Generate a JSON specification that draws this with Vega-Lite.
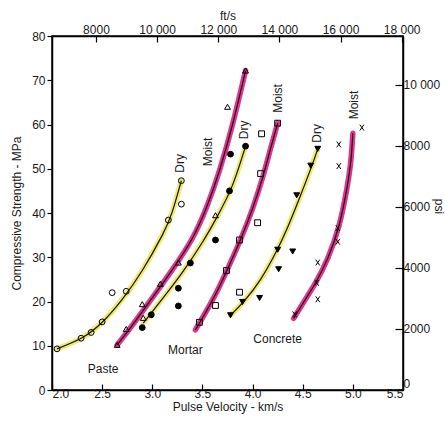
{
  "$schema": "https://vega.github.io/schema/vega-lite/v6.json",
  "width": 351,
  "height": 354,
  "autosize": {"type": "none"},
  "padding": {"left": 52, "top": 36, "right": 42, "bottom": 31},
  "background": "white",
  "config": {
    "font": "Liberation Sans",
    "view": {"stroke": "black", "strokeWidth": 1.5},
    "axis": {
      "domainColor": "black",
      "domainWidth": 1.5,
      "tickColor": "black",
      "tickWidth": 1.2,
      "labelColor": "#1a1a1a",
      "labelFontSize": 12,
      "titleColor": "#1a1a1a",
      "titleFontSize": 12,
      "titleFontWeight": "normal",
      "grid": false
    }
  },
  "datasets": {
    "points": [
      {"series": "Paste Dry", "v": 2.05, "S": 9.3},
      {"series": "Paste Dry", "v": 2.29, "S": 11.7},
      {"series": "Paste Dry", "v": 2.39, "S": 13.0},
      {"series": "Paste Dry", "v": 2.50, "S": 15.4},
      {"series": "Paste Dry", "v": 2.60, "S": 22.0},
      {"series": "Paste Dry", "v": 2.74, "S": 22.3},
      {"series": "Paste Dry", "v": 3.16, "S": 38.4},
      {"series": "Paste Dry", "v": 3.29, "S": 42.0},
      {"series": "Paste Dry", "v": 3.29, "S": 47.3},
      {"series": "Paste Moist", "v": 2.65, "S": 10.2},
      {"series": "Paste Moist", "v": 2.74, "S": 13.8},
      {"series": "Paste Moist", "v": 2.90, "S": 19.4},
      {"series": "Paste Moist", "v": 2.91, "S": 16.3},
      {"series": "Paste Moist", "v": 3.08, "S": 24.0},
      {"series": "Paste Moist", "v": 3.26, "S": 28.8},
      {"series": "Paste Moist", "v": 3.63, "S": 39.5},
      {"series": "Paste Moist", "v": 3.75, "S": 64.0},
      {"series": "Paste Moist", "v": 3.93, "S": 72.2},
      {"series": "Mortar Dry", "v": 2.90, "S": 14.1},
      {"series": "Mortar Dry", "v": 2.99, "S": 17.0},
      {"series": "Mortar Dry", "v": 3.26, "S": 19.0},
      {"series": "Mortar Dry", "v": 3.26, "S": 23.0},
      {"series": "Mortar Dry", "v": 3.38, "S": 28.7},
      {"series": "Mortar Dry", "v": 3.63, "S": 33.9},
      {"series": "Mortar Dry", "v": 3.77, "S": 45.0},
      {"series": "Mortar Dry", "v": 3.78, "S": 53.3},
      {"series": "Mortar Dry", "v": 3.93, "S": 55.1},
      {"series": "Mortar Moist", "v": 3.47, "S": 15.3},
      {"series": "Mortar Moist", "v": 3.63, "S": 19.1},
      {"series": "Mortar Moist", "v": 3.74, "S": 27.0},
      {"series": "Mortar Moist", "v": 3.87, "S": 22.1},
      {"series": "Mortar Moist", "v": 3.87, "S": 33.9},
      {"series": "Mortar Moist", "v": 4.05, "S": 37.8},
      {"series": "Mortar Moist", "v": 4.08, "S": 48.9},
      {"series": "Mortar Moist", "v": 4.09, "S": 57.9},
      {"series": "Mortar Moist", "v": 4.25, "S": 60.3},
      {"series": "Concrete Dry", "v": 3.78, "S": 16.9},
      {"series": "Concrete Dry", "v": 3.90, "S": 19.9},
      {"series": "Concrete Dry", "v": 4.07, "S": 20.8},
      {"series": "Concrete Dry", "v": 4.26, "S": 27.3},
      {"series": "Concrete Dry", "v": 4.25, "S": 31.7},
      {"series": "Concrete Dry", "v": 4.40, "S": 31.3},
      {"series": "Concrete Dry", "v": 4.44, "S": 44.0},
      {"series": "Concrete Dry", "v": 4.58, "S": 50.7},
      {"series": "Concrete Dry", "v": 4.65, "S": 54.5},
      {"series": "Concrete Moist", "v": 4.42, "S": 17.1},
      {"series": "Concrete Moist", "v": 4.65, "S": 20.5},
      {"series": "Concrete Moist", "v": 4.64, "S": 24.2},
      {"series": "Concrete Moist", "v": 4.65, "S": 28.8},
      {"series": "Concrete Moist", "v": 4.85, "S": 33.5},
      {"series": "Concrete Moist", "v": 4.85, "S": 36.6},
      {"series": "Concrete Moist", "v": 4.86, "S": 50.6},
      {"series": "Concrete Moist", "v": 4.86, "S": 55.5},
      {"series": "Concrete Moist", "v": 5.09, "S": 59.3}
    ],
    "curves": [
      {"series": "Paste Dry", "v": 2.05, "S": 9.3},
      {"series": "Paste Dry", "v": 2.3, "S": 11.8},
      {"series": "Paste Dry", "v": 2.5, "S": 15.3},
      {"series": "Paste Dry", "v": 2.7, "S": 20.5},
      {"series": "Paste Dry", "v": 2.9, "S": 27.0},
      {"series": "Paste Dry", "v": 3.1, "S": 35.0},
      {"series": "Paste Dry", "v": 3.2, "S": 40.3},
      {"series": "Paste Dry", "v": 3.29, "S": 47.3},
      {"series": "Paste Moist", "v": 2.65, "S": 10.2},
      {"series": "Paste Moist", "v": 2.8, "S": 14.6},
      {"series": "Paste Moist", "v": 3.0, "S": 20.8},
      {"series": "Paste Moist", "v": 3.2, "S": 27.2},
      {"series": "Paste Moist", "v": 3.4, "S": 34.3},
      {"series": "Paste Moist", "v": 3.55, "S": 41.8},
      {"series": "Paste Moist", "v": 3.67, "S": 49.6},
      {"series": "Paste Moist", "v": 3.8, "S": 60.0},
      {"series": "Paste Moist", "v": 3.93, "S": 72.2},
      {"series": "Mortar Dry", "v": 2.91, "S": 15.1},
      {"series": "Mortar Dry", "v": 3.1, "S": 20.6},
      {"series": "Mortar Dry", "v": 3.3, "S": 26.6},
      {"series": "Mortar Dry", "v": 3.5, "S": 33.4},
      {"series": "Mortar Dry", "v": 3.65, "S": 39.3},
      {"series": "Mortar Dry", "v": 3.8, "S": 46.3},
      {"series": "Mortar Dry", "v": 3.93, "S": 55.1},
      {"series": "Mortar Moist", "v": 3.43, "S": 13.6},
      {"series": "Mortar Moist", "v": 3.6, "S": 20.3},
      {"series": "Mortar Moist", "v": 3.74, "S": 26.8},
      {"series": "Mortar Moist", "v": 3.88, "S": 34.0},
      {"series": "Mortar Moist", "v": 4.0, "S": 41.0},
      {"series": "Mortar Moist", "v": 4.1, "S": 48.0},
      {"series": "Mortar Moist", "v": 4.18, "S": 54.6},
      {"series": "Mortar Moist", "v": 4.25, "S": 60.3},
      {"series": "Concrete Dry", "v": 3.78, "S": 16.9},
      {"series": "Concrete Dry", "v": 3.92, "S": 20.2},
      {"series": "Concrete Dry", "v": 4.08, "S": 25.0},
      {"series": "Concrete Dry", "v": 4.23, "S": 31.0},
      {"series": "Concrete Dry", "v": 4.35, "S": 36.8},
      {"series": "Concrete Dry", "v": 4.47, "S": 43.5},
      {"series": "Concrete Dry", "v": 4.59, "S": 50.6},
      {"series": "Concrete Dry", "v": 4.65, "S": 54.5},
      {"series": "Concrete Moist", "v": 4.41, "S": 16.2},
      {"series": "Concrete Moist", "v": 4.5, "S": 19.5},
      {"series": "Concrete Moist", "v": 4.63, "S": 24.3},
      {"series": "Concrete Moist", "v": 4.75, "S": 29.8},
      {"series": "Concrete Moist", "v": 4.86, "S": 37.0},
      {"series": "Concrete Moist", "v": 4.94, "S": 45.5},
      {"series": "Concrete Moist", "v": 4.98, "S": 51.8},
      {"series": "Concrete Moist", "v": 5.0, "S": 58.0}
    ],
    "curveLabels": [
      {"label": "Dry", "v": 3.28, "S": 51.2},
      {"label": "Moist", "v": 3.56, "S": 53.8},
      {"label": "Dry", "v": 3.91, "S": 58.8},
      {"label": "Moist", "v": 4.25, "S": 65.9},
      {"label": "Dry", "v": 4.64, "S": 58.0},
      {"label": "Moist", "v": 5.01, "S": 64.4}
    ],
    "groupLabels": [
      {"label": "Paste", "v": 2.51, "S": 4.7},
      {"label": "Mortar", "v": 3.33, "S": 9.0},
      {"label": "Concrete", "v": 4.25, "S": 11.5}
    ],
    "imperial": [
      {"ft": 8000, "psi": 0},
      {"ft": 18000, "psi": 10000}
    ]
  },
  "layer": [
    {
      "encoding": {
        "x": {
          "field": "v",
          "type": "quantitative",
          "scale": {"domain": [2, 5.5], "nice": false, "zero": false},
          "axis": {
            "orient": "bottom",
            "values": [2, 2.5, 3, 3.5, 4, 4.5, 5, 5.5],
            "format": ".1f",
            "tickSize": -6,
            "labelPadding": 4,
            "title": "Pulse Velocity - km/s",
            "titlePadding": 2
          }
        },
        "y": {
          "field": "S",
          "type": "quantitative",
          "scale": {"domain": [0, 80], "nice": false, "zero": false},
          "axis": {
            "orient": "left",
            "values": [0, 10, 20, 30, 40, 50, 60, 70, 80],
            "tickSize": 5,
            "labelPadding": 2,
            "title": "Compressive Strength - MPa",
            "titlePadding": 8
          }
        }
      },
      "layer": [
        {
          "data": {"name": "curves"},
          "mark": {"type": "line", "interpolate": "natural", "strokeWidth": 5.5, "strokeCap": "round"},
          "encoding": {
            "color": {
              "field": "series",
              "type": "nominal",
              "legend": null,
              "scale": {
                "domain": ["Paste Dry", "Paste Moist", "Mortar Dry", "Mortar Moist", "Concrete Dry", "Concrete Moist"],
                "range": ["#eeeb70", "#e2338e", "#eeeb70", "#e2338e", "#eeeb70", "#e2338e"]
              }
            }
          }
        },
        {
          "data": {"name": "curves"},
          "mark": {"type": "line", "interpolate": "natural", "strokeWidth": 1.2, "color": "#111111"},
          "encoding": {"detail": {"field": "series", "type": "nominal"}}
        },
        {
          "data": {"name": "points"},
          "mark": {"type": "point", "stroke": "black", "strokeWidth": 1, "size": 34, "opacity": 1},
          "encoding": {
            "shape": {
              "field": "series",
              "type": "nominal",
              "legend": null,
              "scale": {
                "domain": ["Paste Dry", "Paste Moist", "Mortar Dry", "Mortar Moist", "Concrete Dry", "Concrete Moist"],
                "range": ["circle", "triangle-up", "circle", "square", "triangle-down", "M-0.7,-1L0.7,1M-0.7,1L0.7,-1"]
              }
            },
            "fill": {
              "field": "series",
              "type": "nominal",
              "legend": null,
              "scale": {
                "domain": ["Paste Dry", "Paste Moist", "Mortar Dry", "Mortar Moist", "Concrete Dry", "Concrete Moist"],
                "range": ["transparent", "transparent", "black", "transparent", "black", "transparent"]
              }
            }
          }
        },
        {
          "data": {"name": "curveLabels"},
          "mark": {"type": "text", "angle": 270, "align": "center", "baseline": "middle", "fontSize": 12, "color": "#1a1a1a"},
          "encoding": {"text": {"field": "label", "type": "nominal"}}
        },
        {
          "data": {"name": "groupLabels"},
          "mark": {"type": "text", "align": "center", "baseline": "middle", "fontSize": 12, "color": "#1a1a1a"},
          "encoding": {"text": {"field": "label", "type": "nominal"}}
        }
      ]
    },
    {
      "data": {"name": "imperial"},
      "mark": {"type": "point", "opacity": 0},
      "encoding": {
        "x": {
          "field": "ft",
          "type": "quantitative",
          "scale": {"domain": [6561.68, 18044.62], "nice": false, "zero": false},
          "axis": {
            "orient": "top",
            "values": [8000, 10000, 12000, 14000, 16000, 18000],
            "labelExpr": "datum.value >= 10000 ? replace(format(datum.value, ','), ',', ' ') : format(datum.value, 'd')",
            "tickSize": -6,
            "labelPadding": 6,
            "title": "ft/s",
            "titlePadding": 1
          }
        },
        "y": {
          "field": "psi",
          "type": "quantitative",
          "scale": {"domain": [0, 11603], "nice": false, "zero": false},
          "axis": {
            "orient": "right",
            "values": [0, 2000, 4000, 6000, 8000, 10000],
            "labelExpr": "datum.value >= 10000 ? replace(format(datum.value, ','), ',', ' ') : format(datum.value, 'd')",
            "labelFlush": true,
            "tickSize": -8,
            "labelPadding": 8,
            "title": "psi",
            "titleX": 35,
            "titleY": 170,
            "titleBaseline": "middle",
            "titleAngle": 90
          }
        }
      }
    }
  ],
  "resolve": {"scale": {"x": "independent", "y": "independent"}}
}
